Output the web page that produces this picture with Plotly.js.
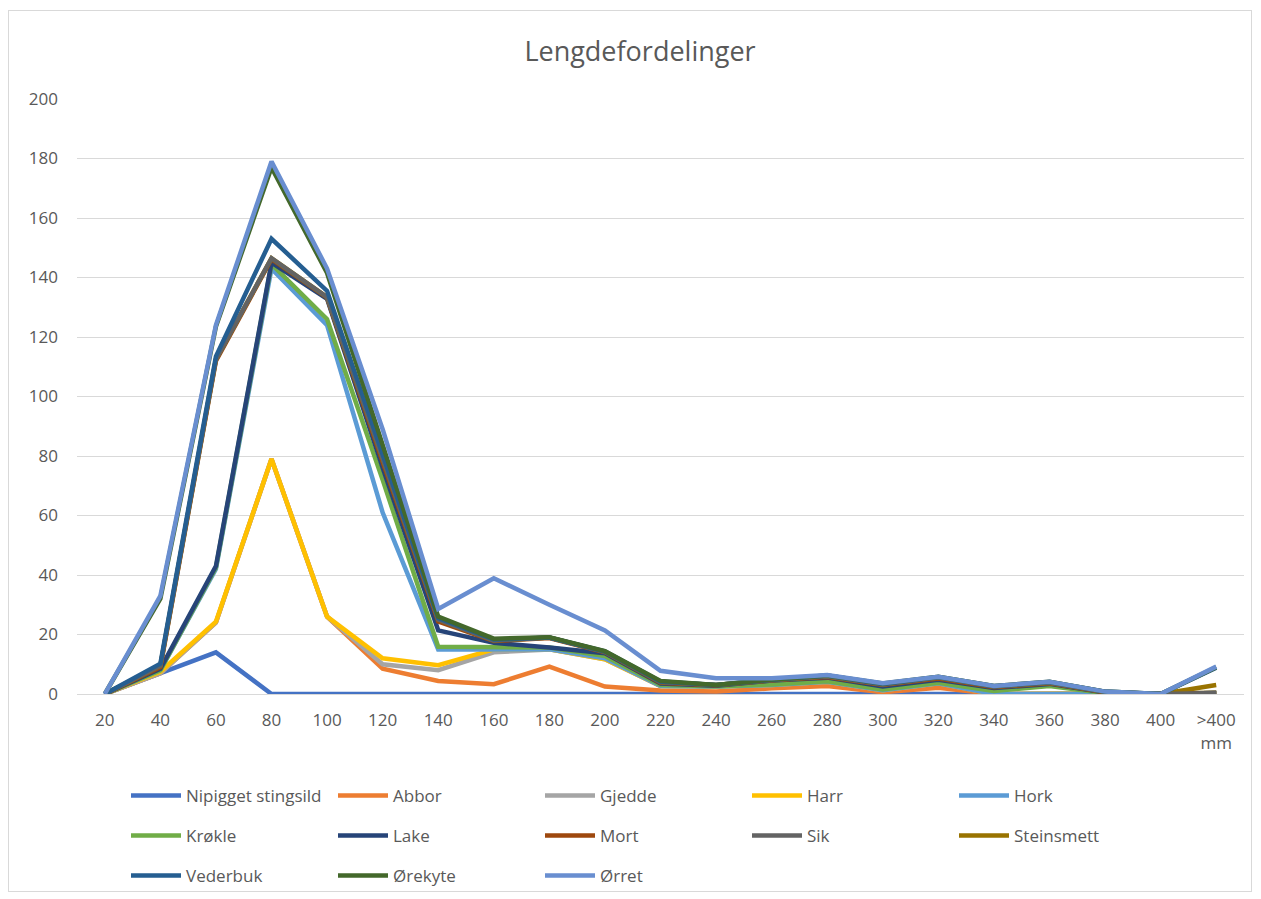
<!DOCTYPE html>
<html>
<head>
<meta charset="utf-8">
<script src="https://cdn.plot.ly/plotly-3.0.1.min.js"></script>
<style>
  html, body { margin: 0; padding: 0; background: #ffffff; }
  #chart { width: 1261px; height: 899px; }
  #frame { position: absolute; left: 8px; top: 10px; width: 1244px; height: 882px;
           border: 1px solid #D9D9D9; pointer-events: none; box-sizing: border-box; }
</style>
</head>
<body>
<div id="chart"></div>
<div id="frame"></div>
<script>
// Category labels (length classes)
var categories = ['20','40','60','80','100','120','140','160','180','200','220','240','260','280','300','320','340','360','380','400','>400<br>mm'];

// Series values as plotted (stacked line chart, cumulative values)
var nipigget   = [0, 7, 14, 0, 0, 0, 0, 0, 0, 0, 0, 0, 0, 0, 0, 0, 0, 0, 0, 0, 0];
var abbor      = [0, 7, 24, 79, 26, 8.5, 4.4, 3.3, 9.2, 2.5, 1.2, 0.8, 1.9, 2.7, 0.6, 2.1, 0, 0, 0, 0, 0.3];
var gjedde     = [0, 7, 24, 79, 26, 10, 8, 14, 15, 11.7, 2.7, 2.5, 3, 4.1, 1.3, 3.6, 0, 0, 0, 0, 0.3];
var harr       = [0, 7.5, 24.3, 79, 26, 12, 9.7, 15, 15, 11.7, 2.7, 2.5, 3, 4.1, 1.3, 3.6, 0, 0, 0, 0, 0.3];
var hork       = [0, 8, 42, 143, 124, 61, 15, 15, 15, 12, 2.7, 2.5, 3, 4.1, 1.3, 3.6, 0, 0, 0, 0, 0.3];
var krokle     = [0, 8, 42.5, 144.5, 126, 72, 15.9, 15.9, 15.6, 12.8, 3, 2.6, 3.2, 4.3, 1.5, 3.8, 1, 2.7, 0.3, 0, 0.3];
var lake       = [0, 8.5, 43, 145, 132.8, 76, 21.4, 17.2, 15.6, 13.7, 3.5, 2.8, 4.5, 5.5, 2.5, 4.8, 2, 3.4, 0.5, 0, 0.3];
var mort       = [0, 9, 112, 146.2, 133.2, 78, 24.4, 17.8, 18.8, 14, 3.8, 2.9, 4.6, 5.7, 3, 5.2, 2.3, 3.6, 0.6, 0, 0.3];
var sik        = [0, 9.5, 112.5, 146.5, 133.4, 79, 25, 18, 19, 14.2, 4, 3, 4.7, 6, 3.2, 5.5, 2.5, 3.8, 0.7, 0, 0.3];
var steinsmett = [0, 9.5, 112.5, 146.5, 133.4, 79, 25, 18, 19, 14.2, 4, 3, 4.7, 6, 3.2, 5.5, 2.5, 3.8, 0.7, 0, 3];
var vederbuk   = [0, 10.2, 113.5, 153, 135.5, 80, 25.5, 18.3, 19, 14.3, 4.2, 3, 4.8, 6.2, 3.4, 5.7, 2.6, 4, 0.8, 0, 8.8];
var orekyte    = [0, 32, 123.5, 177, 141.5, 84, 26, 18.6, 19.1, 14.4, 4.4, 3, 4.9, 6.2, 3.5, 5.8, 2.7, 4.1, 0.8, 0, 9];
var orret      = [0, 33, 124, 179, 143, 89, 28.6, 38.9, 30, 21.4, 7.8, 5.3, 5.3, 6.4, 3.6, 5.8, 2.7, 4.1, 0.8, 0, 9.2];

var seriesNames = ['Nipigget stingsild','Abbor','Gjedde','Harr','Hork','Krøkle','Lake','Mort','Sik','Steinsmett','Vederbuk','Ørekyte','Ørret'];
var seriesValues = [nipigget, abbor, gjedde, harr, hork, krokle, lake, mort, sik, steinsmett, vederbuk, orekyte, orret];
var seriesColors = ['#4472C4','#ED7D31','#A5A5A5','#FFC000','#5B9BD5','#70AD47','#264478','#9E480E','#636363','#997300','#255E91','#43682B','#698ED0'];
var legendIds = ['legend','legend','legend','legend','legend','legend2','legend2','legend2','legend2','legend2','legend3','legend3','legend3'];
// drawing order (later = on top); legend order kept by legendrank
var drawOrder = [0, 1, 2, 3, 4, 5, 6, 7, 9, 8, 10, 11, 12];

var traces = drawOrder.map(function (i) {
  return {
    type: 'scatter', mode: 'lines', name: seriesNames[i],
    x: categories, y: seriesValues[i],
    line: { color: seriesColors[i], width: 4.5, shape: 'linear' },
    legend: legendIds[i], legendrank: i + 1,
    hoverinfo: 'x+y+name'
  };
});

var FONT = 'Open Sans, Liberation Sans, sans-serif';
function legendRow(yPix) {
  return {
    orientation: 'h', xref: 'container', yref: 'container',
    x: 126 / 1261, xanchor: 'left',
    y: 1 - yPix / 899, yanchor: 'middle',
    itemwidth: 50,
    entrywidth: 142, entrywidthmode: 'pixels',
    font: { family: FONT, size: 17, color: '#595959' },
    bgcolor: 'rgba(0,0,0,0)', borderwidth: 0,
    traceorder: 'normal', itemclick: false, itemdoubleclick: false
  };
}

var layout = {
  width: 1261, height: 899,
  paper_bgcolor: '#ffffff', plot_bgcolor: '#ffffff',
  margin: { l: 77, r: 17, t: 99, b: 205 },
  font: { family: FONT, color: '#595959' },
  title: {
    text: 'Lengdefordelinger',
    font: { family: FONT, size: 27, color: '#595959' },
    xref: 'container', x: 640 / 1261, xanchor: 'center',
    yref: 'container', y: 1 - 52 / 899, yanchor: 'middle'
  },
  xaxis: {
    type: 'category', categoryorder: 'array', categoryarray: categories,
    range: [-0.5, categories.length - 0.5],
    showgrid: false, zeroline: false,
    showline: true, linecolor: '#D9D9D9', linewidth: 1,
    ticks: '', ticklabelstandoff: 11,
    tickfont: { family: FONT, size: 17, color: '#595959' },
    fixedrange: true
  },
  yaxis: {
    range: [0, 200], tick0: 0, dtick: 20,
    showgrid: true, gridcolor: '#D9D9D9', gridwidth: 1,
    zeroline: false, showline: false,
    ticks: '', ticklabelstandoff: 18,
    tickfont: { family: FONT, size: 17, color: '#595959' },
    fixedrange: true
  },
  showlegend: true,
  legend: legendRow(796),
  legend2: legendRow(836),
  legend3: legendRow(876)
};

Plotly.newPlot('chart', traces, layout, { displayModeBar: false });
</script>
</body>
</html>
